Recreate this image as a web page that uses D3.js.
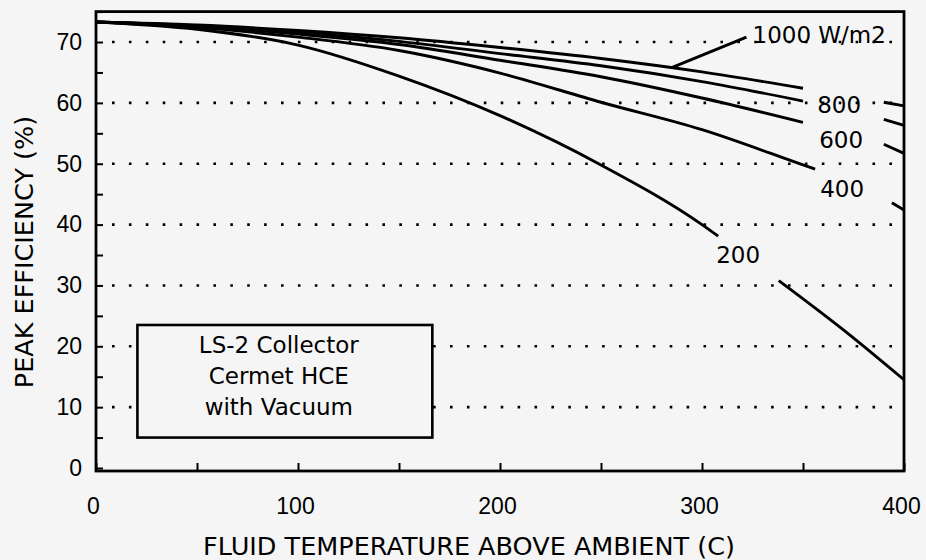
<html>
  <head>
    <script src="https://cdnjs.cloudflare.com/ajax/libs/d3/7.8.5/d3.min.js"></script>
  </head>
  <body style="margin:0;background:#f5f5f5;">
    <style>
      svg {font-family:"DejaVu Sans",sans-serif;}
      .tick text {font-size:23px;fill:#000;}
      .tick line {stroke:#000;stroke-width:2;}
      .grid {stroke:#000;stroke-width:2.6;stroke-dasharray:2.6,14.3;}
      .curve {fill:none;stroke:#000;stroke-width:2.9;}
    </style>
    <div id="chart"></div>
    <script>


// D A T A

      // peak efficiency (%) vs fluid temperature above ambient (C)
      // null marks the break in each curve where its label sits
      let eff1000 = [[0,73.3],[50,72.8],[100,71.9],[150,70.7],[200,69.1],[250,67.3],[300,65.1],[350,62.4],[370,null],[390,60.1],[400,59.5]]
      let eff800  = [[0,73.3],[50,72.7],[100,71.6],[150,70.1],[200,68.1],[250,66.1],[300,63.5],[350,60.3],[370,null],[390,57.3],[400,56.3]]
      let eff600  = [[0,73.3],[50,72.6],[100,71.3],[150,69.6],[200,67.0],[250,64.3],[300,60.8],[350,56.8],[370,null],[390,53.2],[400,51.7]]
      let eff400  = [[0,73.3],[50,72.4],[100,70.8],[150,68.6],[200,64.9],[250,60.1],[300,55.6],[350,49.8],[356,49.1],[375,null],[394,43.6],[400,42.4]]
      let eff200  = [[0,73.3],[50,72.1],[100,69.5],[150,64.4],[200,57.9],[250,49.8],[300,40.0],[308,38.1],[320,null],[338,30.8],[370,22.7],[400,14.5]]

      let curves = [eff1000, eff800, eff600, eff400, eff200]
      let labels = ['1000 W/m2', '800', '600', '400', '200']
      // label anchor in data units (temperature, efficiency)
      let labelAt = [[325,69.9],[357,58.3],[358,52.6],[358.5,44.5],[307,33.7]]
      let pointer1000 = [[285,65.8],[322,70.8]]

      let xTicks = [0, 50, 100, 150, 200, 250, 300, 350, 400]
      let yTicks = [0, 5, 10, 15, 20, 25, 30, 35, 40, 45, 50, 55, 60, 65, 70, 75]
      let gridAt = [10, 20, 30, 40, 50, 60, 70]
      let note = ['LS-2 Collector', 'Cermet HCE', 'with Vacuum']


// S C A L E S

      let width = 926, height = 560

      let x = d3.scaleLinear().domain([0, 400]).range([96, 904])
      let y = d3.scaleLinear().domain([0, 75]).range([468, 11.6])

      let svg = d3.select('#chart').append('svg')
        .attr('width', width)
        .attr('height', height)

// G R I D

      svg.append('g')
        .selectAll('line')
        .data(gridAt)
        .enter().append('line')
          .attr('class', 'grid')
          .attr('x1', x(0) + 16)
          .attr('x2', x(400))
          .attr('y1', d => y(d))
          .attr('y2', d => y(d))

// A X I S

      let xAxis = svg.append('g')
        .attr('transform', `translate(0,${y(0) + 3})`)
        .call(d3.axisBottom(x)
          .tickValues(xTicks)
          .tickSize(-8)
          .tickPadding(27)
          .tickFormat(d => d % 100 == 0 ? d : ''))
      xAxis.select('.domain').remove()
      xAxis.selectAll('text').attr('dx', -3)

      let yAxis = svg.append('g')
        .attr('transform', `translate(${x(0)},0)`)
        .call(d3.axisLeft(y)
          .tickValues(yTicks)
          .tickSize(-7)
          .tickPadding(14)
          .tickFormat(d => d % 10 == 0 && d < 75 ? d : ''))
      yAxis.select('.domain').remove()

      // frame
      svg.append('rect')
        .attr('x', x(0))
        .attr('y', y(75))
        .attr('width', x(400) - x(0))
        .attr('height', y(0) + 3 - y(75))
        .attr('fill', 'none')
        .attr('stroke', '#000')
        .attr('stroke-width', 2.8)

      svg.append('text')
        .attr('x', 469)
        .attr('y', 555)
        .attr('text-anchor', 'middle')
        .style('font-size', '25.5px')
        .text('FLUID TEMPERATURE ABOVE AMBIENT (C)')

      svg.append('text')
        .attr('transform', 'translate(33,252) rotate(-90)')
        .attr('text-anchor', 'middle')
        .style('font-size', '25.5px')
        .text('PEAK EFFICIENCY (%)')


// R E N D E R

      let line = d3.line()
        .defined(d => d[1] != null)
        .x(d => x(d[0]))
        .y(d => y(d[1]))
        .curve(d3.curveMonotoneX)

      svg.append('g')
        .selectAll('path')
        .data(curves)
        .enter().append('path')
          .attr('class', 'curve')
          .attr('d', line)

      svg.append('path')
        .attr('class', 'curve')
        .attr('d', d3.line().x(d => x(d[0])).y(d => y(d[1]))(pointer1000))

      svg.append('g')
        .selectAll('text')
        .data(labels)
        .enter().append('text')
          .attr('x', (d, i) => x(labelAt[i][0]))
          .attr('y', (d, i) => y(labelAt[i][1]))
          .style('font-size', '23px')
          .text(d => d)

// N O T E

      let box = svg.append('g')
      box.append('rect')
        .attr('x', x(20.5))
        .attr('y', y(23.5))
        .attr('width', x(166.5) - x(20.5))
        .attr('height', y(5) - y(23.5))
        .attr('fill', '#f5f5f5')
        .attr('stroke', '#000')
        .attr('stroke-width', 2.6)
      box.selectAll('text')
        .data(note)
        .enter().append('text')
          .attr('x', x(90.5))
          .attr('y', (d, i) => 353 + i * 31)
          .attr('text-anchor', 'middle')
          .style('font-size', '23px')
          .text(d => d)

    </script>
  </body>
</html>
